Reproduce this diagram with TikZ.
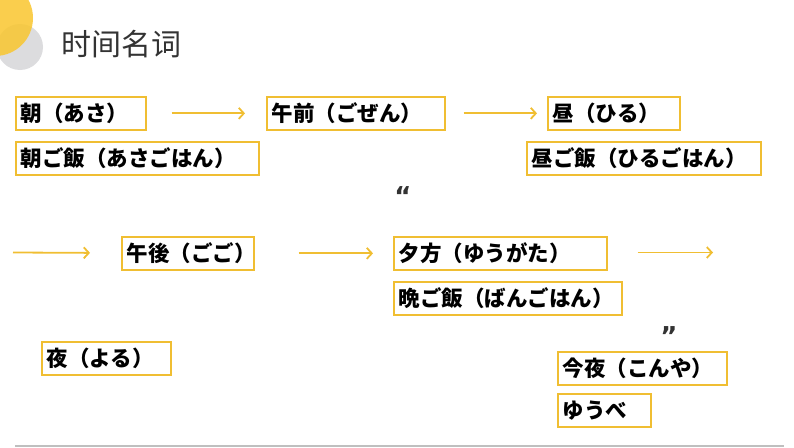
\documentclass[tikz,border=0pt]{standalone}
\usepackage{fontspec}
\usepackage{xcolor}
\usepackage{tikz}
\usetikzlibrary{arrows.meta,positioning}
\newfontfamily\zhfont{Noto Sans CJK SC}
\newfontfamily\jpfont{Noto Sans CJK JP}
\newfontfamily\quotefont{DejaVu Sans}
\definecolor{gold}{HTML}{F0BE32}
\definecolor{sun}{HTML}{F9C62E}
\definecolor{mist}{HTML}{DCDCDE}
\definecolor{ink}{HTML}{333333}
\tikzset{wbox/.style={draw=gold, line width=1.7pt, anchor=north west, inner xsep=5pt, inner ysep=0pt,
                      minimum height=33pt, text width=#1, align=left, font=\jpfont\bfseries\fontsize{21.5}{24}\selectfont},
         arr/.style={-{Straight Barb[length=5pt,width=11pt,line width=1.8pt]}, line width=1.8pt, gold},
         quo/.style={font=\quotefont\bfseries\fontsize{26}{26}\selectfont, text=ink}}

\begin{document}
\begin{tikzpicture}[x=1pt,y=-1pt]
\useasboundingbox (0,0) rectangle (794,447);
% corner decoration and frame
\fill[mist] (20,47) circle (23);
\fill[sun, opacity=0.85] (-5,18) circle (38);
\draw[black!25, line width=2pt] (15,445.5) -- (784,445.5);
\node[anchor=west, inner sep=0pt, text=ink, font=\zhfont\fontsize{30}{32}\selectfont] (title) at (61,44) {时间名词};
% morning row
\node[wbox=120pt] (asa) at (15,96) {朝（あさ）};
\node[wbox=233pt] (asagohan) at (15,141) {朝ご飯（あさごはん）};
\node[wbox=168pt] (gozen) at (266,96) {午前（ごぜん）};
\node[wbox=122pt] (hiru) at (547,96) {昼（ひる）};
\node[wbox=224pt] (hirugohan) at (526,141) {昼ご飯（ひるごはん）};
\draw[arr, shorten <=25pt, shorten >=21pt] (asa) -- (gozen);
\draw[arr, shorten <=18pt, shorten >=10pt] (gozen) -- (hiru);
% afternoon row
\coordinate (in) at (13,252.5);
\coordinate (out) at (713,252.5);
\node[wbox=122pt] (gogo) at (121,236) {午後（ごご）};
\node[wbox=203pt] (yuugata) at (393,236) {夕方（ゆうがた）};
\node[wbox=218pt] (bangohan) at (393,281) {晩ご飯（ばんごはん）};
\draw[arr, shorten >=31pt] (in) -- (gogo);
\draw[arr, shorten <=44pt, shorten >=20pt] (gogo) -- (yuugata);
\draw[arr, shorten <=30pt] (yuugata.east |- out) -- (out);
% night
\node[wbox=119pt] (yoru) at (41,341) {夜（よる）};
\node[wbox=159pt] (konya) at (557,351) {今夜（こんや）};
\node[wbox=83pt] (yuube) at (557,393) {ゆうべ};
\node[quo] (lq) at (403,196) {“};
\node[quo] (rq) at (669,336) {”};
\end{tikzpicture}
\end{document}
